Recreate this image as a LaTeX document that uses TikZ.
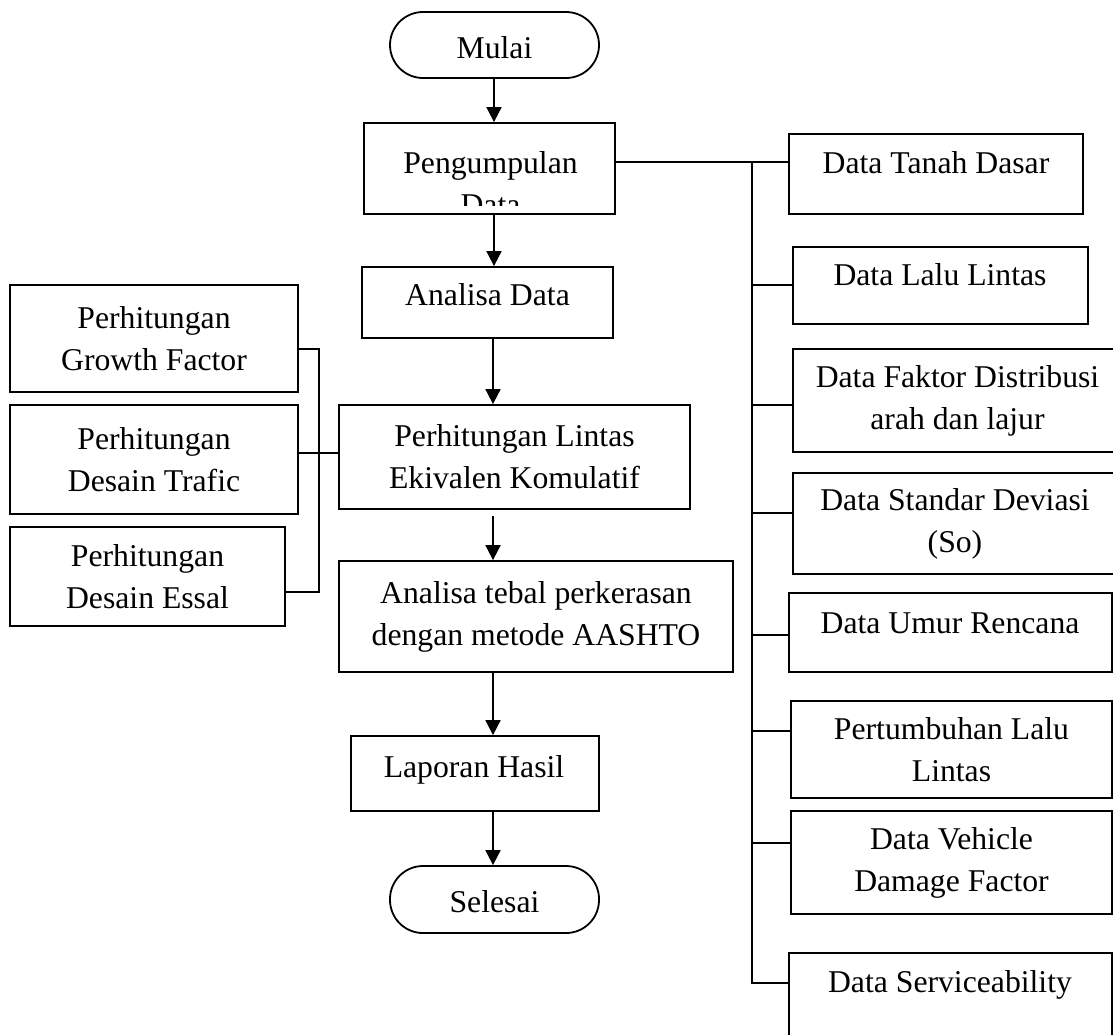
\documentclass[tikz,border=0pt]{standalone}
\usepackage{fontspec}
\setmainfont{Liberation Serif}
\usetikzlibrary{arrows.meta}
\newcommand\fsz{\fontsize{31.7}{42}\selectfont}
\tikzset{
  box/.style={draw, line width=1.8pt, inner sep=0pt, align=center, font=\fsz},
  term/.style={box, rounded corners=33pt},
  txt/.style={inner sep=0pt, font=\fsz},
  con/.style={line width=1.8pt},
  arr/.style={line width=1.8pt, -{Triangle[width=15pt,length=15pt]}},
}
\begin{document}
\begin{tikzpicture}[x=1pt,y=-1pt]
\useasboundingbox (0,0) rectangle (1113,1034);
% main column
\node[term, minimum width=209pt, minimum height=66pt] (mulai) at (494.5,45) {};
\node[txt, anchor=base] (tmulai) at (494.5,58) {Mulai};
\node[box, minimum width=251pt, minimum height=91pt] (pg) at (489.5,168.5) {};
\begin{scope}
  \clip (366,125) rectangle (613,205);
  \node[txt, anchor=base, align=center] (tpg) at (490.5,173) {Pengumpulan};
  \node[txt, anchor=base] (tpg2) at (490.5,215) {Data};
\end{scope}
\node[box, minimum width=251pt, minimum height=71pt] (ad) at (487.5,302.5) {};
\node[txt, anchor=base] (tad) at (487.5,305) {Analisa Data};
\node[box, minimum width=351pt, minimum height=104pt] (pl) at (514.5,457) {Perhitungan Lintas\\Ekivalen Komulatif};
\node[box, minimum width=394pt, minimum height=111pt] (tb) at (536,616.5) {Analisa tebal perkerasan\\dengan metode AASHTO};
\node[box, minimum width=248pt, minimum height=75pt] (lh) at (475,773.5) {};
\node[txt, anchor=base] (tlh) at (474,777) {Laporan Hasil};
\node[term, minimum width=209pt, minimum height=67pt] (sel) at (494.5,899.5) {};
\node[txt, anchor=base] (tsel) at (494.5,912) {Selesai};
% left column
\node[box, minimum width=288pt, minimum height=107pt] (gf) at (154,338.5) {Perhitungan\\Growth Factor};
\node[box, minimum width=288pt, minimum height=109pt] (dt) at (154,459.5) {Perhitungan\\Desain Trafic};
\node[box, minimum width=275pt, minimum height=99pt] (es) at (147.5,576.5) {Perhitungan\\Desain Essal};
% right column
\node[box, minimum width=294pt, minimum height=80pt] (tanah) at (936,174) {};
\node[txt, anchor=base] (ttanah) at (936,173) {Data Tanah Dasar};
\node[box, minimum width=295pt, minimum height=77pt] (lalu) at (940.5,285.5) {};
\node[txt, anchor=base] (tlalu) at (940,285) {Data Lalu Lintas};
\node[box, minimum width=329pt, minimum height=103pt] (fd) at (957.5,400.5) {Data Faktor Distribusi\\arah dan lajur};
\node[box, minimum width=324pt, minimum height=101pt] (sd) at (955,523.5) {Data Standar Deviasi\\(So)};
\node[box, minimum width=323pt, minimum height=79pt] (um) at (950.5,632.5) {};
\node[txt, anchor=base] (tum) at (950,633) {Data Umur Rencana};
\node[box, minimum width=321pt, minimum height=97pt] (pt) at (951.5,749.5) {Pertumbuhan Lalu\\Lintas};
\node[box, minimum width=321pt, minimum height=103pt] (vd) at (951.5,862.5) {Data Vehicle\\Damage Factor};
\node[box, minimum width=323pt, minimum height=110pt] (sv) at (950.5,1008) {};
\node[txt, anchor=base] (tsv) at (950,992) {Data Serviceability};
% arrows
\coordinate (ax) at (494,0);
\coordinate (bx) at (493,0);
\draw[arr] (mulai.south -| ax) -- (pg.north -| ax);
\draw[arr] (pg.south -| ax) -- (ad.north -| ax);
\draw[arr] (ad.south -| bx) -- (pl.north -| bx);
\draw[arr] (pl.south -| bx) ++(0,6) -- (tb.north -| bx);
\draw[arr] (tb.south -| bx) -- (lh.north -| bx);
\draw[arr] (lh.south -| bx) -- (sel.north -| bx);
% left bracket
\coordinate (lx) at (319,470);
\draw[con] ([yshift=-10.5pt]gf.east) -| (lx) |- ([yshift=-15.5pt]es.east);
\coordinate (ly) at (0,453);
\draw[con] (dt.east |- ly) -- (pl.west |- ly);
% right trunk
\coordinate (ttop) at (752,162);
\coordinate (tbot) at (752,983);
\draw[con] (pg.east |- ttop) -- (tanah.west |- ttop);
\draw[con] (ttop) -- (tbot) -- (sv.west |- tbot);
\coordinate (j1) at (752,285);
\coordinate (j2) at (752,405);
\coordinate (j3) at (752,513);
\coordinate (j4) at (752,635);
\coordinate (j5) at (752,731);
\coordinate (j6) at (752,843);
\draw[con] (j1) -- (lalu.west |- j1);
\draw[con] (j2) -- (fd.west |- j2);
\draw[con] (j3) -- (sd.west |- j3);
\draw[con] (j4) -- (um.west |- j4);
\draw[con] (j5) -- (pt.west |- j5);
\draw[con] (j6) -- (vd.west |- j6);
\end{tikzpicture}
\end{document}
